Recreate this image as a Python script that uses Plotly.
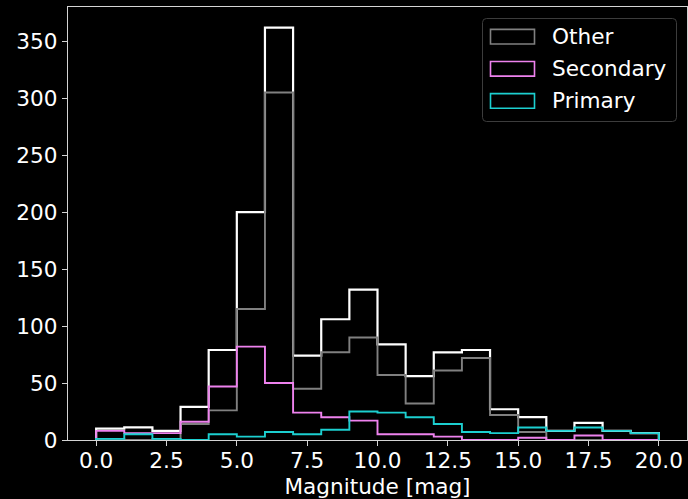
import plotly.graph_objects as go

# Histogram bins (magnitude, 1 mag wide) and counts per bin
bin_edges = list(range(0, 21))
total_counts = [10, 11, 8, 29, 79, 200, 362, 74, 106, 132, 84, 56, 77, 79, 27, 20, 8, 15, 8, 6]
other_counts = [1, 0, 1, 14, 26, 115, 305, 45, 77, 90, 57, 32, 61, 72, 22, 7, 0, 0, 0, 0]
secondary_counts = [8, 6, 6, 16, 47, 82, 50, 24, 20, 17, 5, 5, 3, 0, 0, 2, 0, 4, 0, 0]
primary_counts = [1, 5, 1, 0, 5, 3, 7, 5, 9, 25, 24, 20, 14, 7, 6, 11, 8, 11, 8, 6]

series_names = ["Other", "Secondary", "Primary"]
series_colors = ["#808080", "#ee82ee", "#1ccfd0"]

W, H = 688, 499
ML, MR, MT, MB = 68, 1, 7, 59
PW, PH = W - ML - MR, H - MT - MB
FONT = "DejaVu Sans"
FS = 21.6


def step_xy(edges, counts):
    xs = [edges[0]] + list(edges[:-1]) + [edges[-1]]
    ys = [0] + list(counts) + [0]
    return xs, ys


def px_x(px):
    return (px - ML) / PW


def px_y(py):
    return (H - MB - py) / PH


fig = go.Figure()

traces = [("Total", total_counts, "#ffffff", 2.2)] + [
    (n, c, col, 1.9)
    for n, c, col in zip(series_names, [other_counts, secondary_counts, primary_counts], series_colors)
]
for name, counts, color, width in traces:
    xs, ys = step_xy(bin_edges, counts)
    fig.add_trace(go.Scatter(
        x=xs, y=ys, mode="lines", name=name,
        line=dict(color=color, width=width, shape="hv"),
        showlegend=False, hoverinfo="skip",
    ))

# Legend box with rounded corners
bx0, bx1, by0, by1, r = 482.5, 676.5, 18.5, 121.5, 4
rx, ry = r / PW, r / PH
X0, X1, Y0, Y1 = px_x(bx0), px_x(bx1), px_y(by1), px_y(by0)
path = (
    f"M {X0 + rx},{Y0} L {X1 - rx},{Y0} Q {X1},{Y0} {X1},{Y0 + ry} "
    f"L {X1},{Y1 - ry} Q {X1},{Y1} {X1 - rx},{Y1} "
    f"L {X0 + rx},{Y1} Q {X0},{Y1} {X0},{Y1 - ry} "
    f"L {X0},{Y0 + ry} Q {X0},{Y0} {X0 + rx},{Y0} Z"
)
shapes = [dict(type="path", xref="paper", yref="paper", path=path,
               line=dict(color="#3c3c3c", width=1), fillcolor="rgba(0,0,0,0.8)")]
annotations = []
row_centers = [36.7, 68.8, 100.9]
for name, color, cy in zip(series_names, series_colors, row_centers):
    shapes.append(dict(type="rect", xref="paper", yref="paper",
                       x0=px_x(490.5), x1=px_x(534.5),
                       y0=px_y(cy + 7.3), y1=px_y(cy - 7.3),
                       line=dict(color=color, width=1.6), fillcolor="rgba(0,0,0,0)"))
    annotations.append(dict(xref="paper", yref="paper", x=px_x(550), y=px_y(cy),
                            text=name, showarrow=False, xanchor="left", yanchor="middle",
                            font=dict(family=FONT, size=FS, color="#ffffff")))

axis_common = dict(
    showgrid=False, zeroline=False, showline=True, mirror=True,
    linecolor="#d4d4d4", linewidth=1.3,
    ticks="outside", ticklen=5, tickwidth=1.3, tickcolor="#d4d4d4",
    tickfont=dict(family=FONT, size=FS, color="#ffffff"),
)

fig.update_layout(
    width=W, height=H,
    margin=dict(l=ML, r=MR, t=MT, b=MB),
    paper_bgcolor="#000000", plot_bgcolor="#000000",
    font=dict(family=FONT, size=FS, color="#ffffff"),
    xaxis=dict(range=[-1, 21], tick0=0, dtick=2.5, tickformat=".1f",
               ticklabelstandoff=-4,
               title=dict(text="Magnitude [mag]", font=dict(family=FONT, size=FS, color="#ffffff"),
                          standoff=7),
               **axis_common),
    yaxis=dict(range=[0, 380.1], tick0=0, dtick=50, **axis_common),
    shapes=shapes,
    annotations=annotations,
)

fig.write_html("out.html")
